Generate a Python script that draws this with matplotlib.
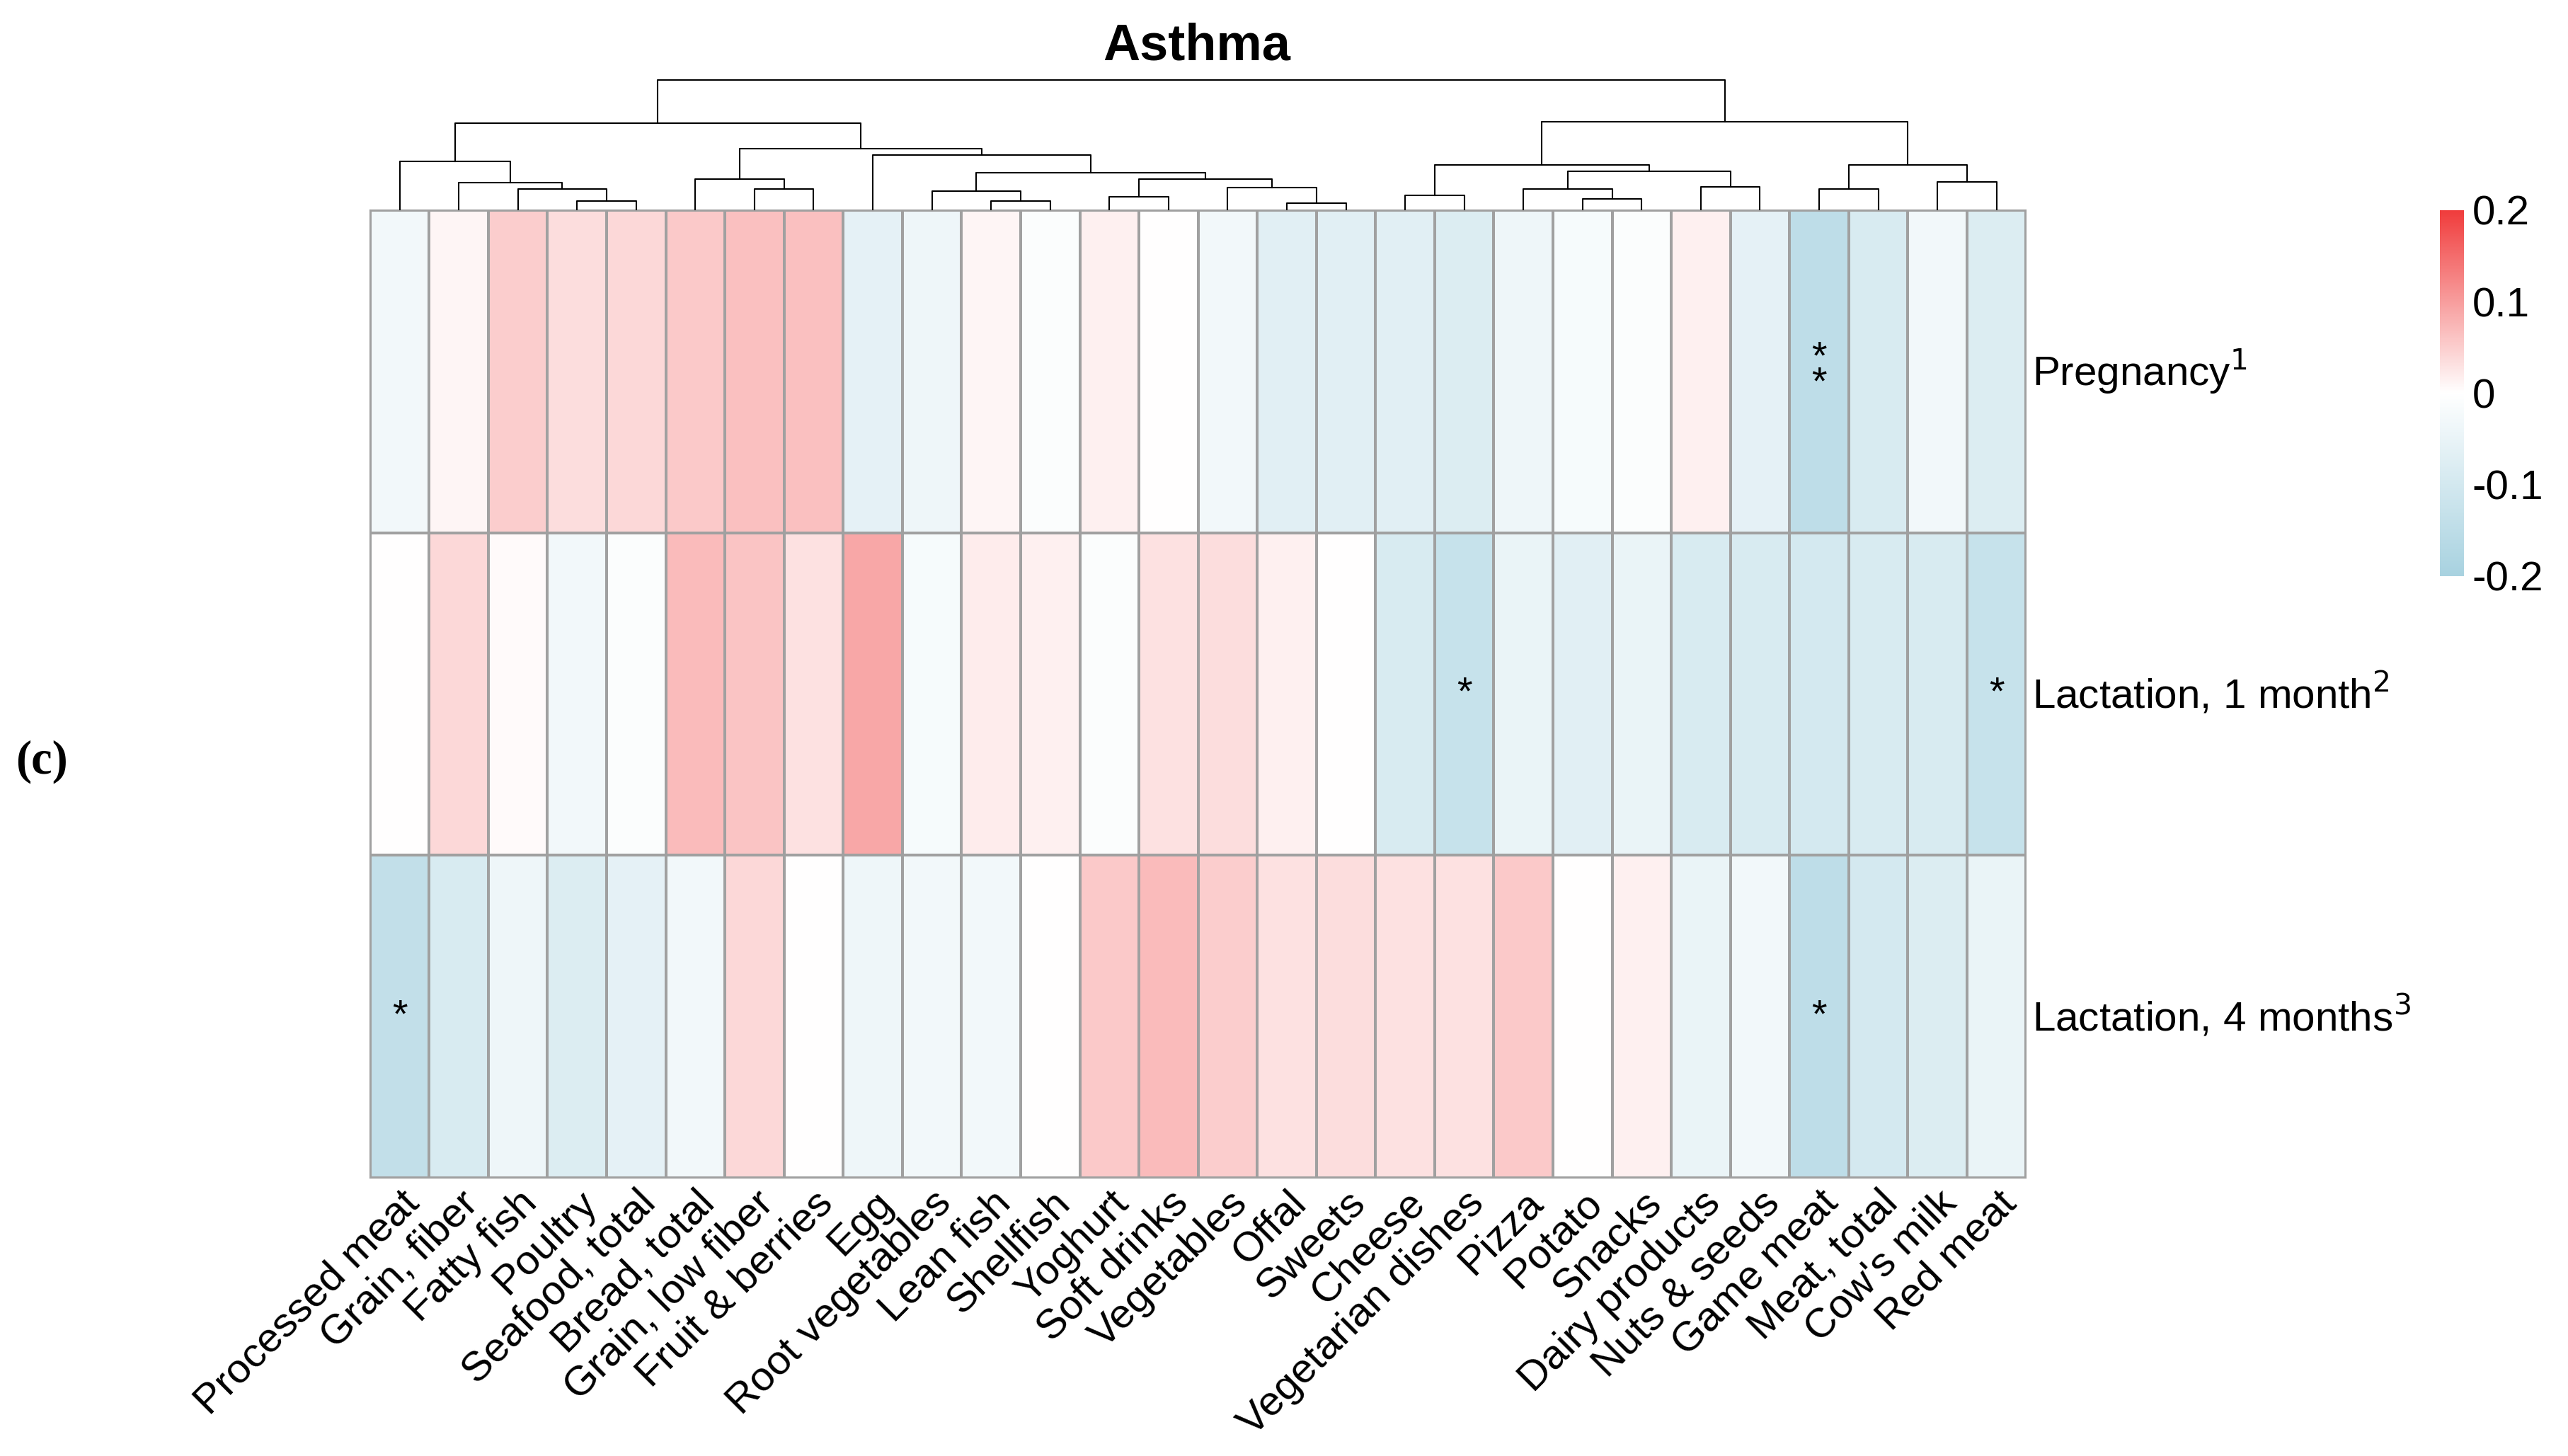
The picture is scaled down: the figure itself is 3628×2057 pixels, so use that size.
import numpy as np
import matplotlib
matplotlib.use('Agg')
import matplotlib.pyplot as plt
from matplotlib.colors import LinearSegmentedColormap, Normalize

plt.rcParams['font.family'] = ['Liberation Sans', 'DejaVu Sans']

foods = ['Processed meat', 'Grain, fiber', 'Fatty fish', 'Poultry', 'Seafood, total',
         'Bread, total', 'Grain, low fiber', 'Fruit & berries', 'Egg', 'Root vegetables',
         'Lean fish', 'Shellfish', 'Yoghurt', 'Soft drinks', 'Vegetables', 'Offal',
         'Sweets', 'Cheese', 'Vegetarian dishes', 'Pizza', 'Potato', 'Snacks',
         'Dairy products', 'Nuts & seeds', 'Game meat', 'Meat, total', "Cow's milk", 'Red meat']
rows = ['Pregnancy$^1$', 'Lactation, 1 month$^2$', 'Lactation, 4 months$^3$']

pregnancy = [-0.03, 0.01, 0.05, 0.035, 0.04, 0.055, 0.065, 0.065, -0.06, -0.04, 0.01, -0.01, 0.015, 0.0,
             -0.03, -0.07, -0.07, -0.07, -0.08, -0.04, -0.02, -0.01, 0.015, -0.06, -0.15, -0.09, -0.03, -0.08]
lact_1m = [0.0, 0.04, 0.005, -0.03, -0.01, 0.07, 0.06, 0.03, 0.09, -0.02, 0.02, 0.015, -0.01, 0.03,
           0.035, 0.015, 0.0, -0.09, -0.13, -0.05, -0.07, -0.05, -0.09, -0.09, -0.10, -0.09, -0.09, -0.13]
lact_4m = [-0.14, -0.09, -0.04, -0.08, -0.06, -0.03, 0.04, 0.0, -0.04, -0.03, -0.03, 0.0, 0.055, 0.07,
           0.05, 0.03, 0.035, 0.03, 0.03, 0.055, 0.0, 0.015, -0.05, -0.03, -0.15, -0.10, -0.08, -0.05]
stars = {(0, 24): '*\n*', (1, 18): '*', (1, 27): '*', (2, 0): '*', (2, 24): '*'}

# dendrogram merges: (left node, right node, height); leaves are ints, clusters are 'cN'
merges = [
    (3, 4, 38), (2, 'c0', 87), (1, 'c1', 112), (0, 'c2', 202),
    (6, 7, 87), (5, 'c4', 128),
    (10, 11, 38), (9, 'c6', 78), (12, 13, 55), (15, 16, 30), (14, 'c9', 92), ('c8', 'c10', 128),
    ('c7', 'c11', 153), (8, 'c12', 228), ('c5', 'c13', 252), ('c3', 'c14', 357),
    (17, 18, 62), (20, 21, 46), (19, 'c17', 88), (22, 23, 95), ('c18', 'c19', 160), ('c16', 'c20', 185),
    (24, 25, 88), (26, 27, 115), ('c22', 'c23', 185), ('c21', 'c24', 365), ('c15', 'c25', 535),
]

data = np.array([pregnancy, lact_1m, lact_4m])
cmap = LinearSegmentedColormap.from_list('bwr2', ['#a8d2e0', '#ffffff', '#f03c3c'])
norm = Normalize(-0.2, 0.2)

fig = plt.figure(figsize=(36.28, 20.57), dpi=100)
ax = fig.add_axes([0.1441, 0.191, 0.6449, 0.6647])
ax.pcolormesh(data, cmap=cmap, norm=norm, edgecolors='#a0a0a0', linewidth=1.5)
ax.set_xlim(0, len(foods))
ax.set_ylim(len(rows), 0)
for s in ax.spines.values():
    s.set_color('#a0a0a0')
    s.set_linewidth(1.5)
ax.set_xticks(np.arange(len(foods)) + 0.5)
ax.set_xticklabels(foods, rotation=45, ha='right', rotation_mode='anchor', fontsize=42)
ax.tick_params(length=0, pad=6)
ax.set_yticks([])
for i, r in enumerate(rows):
    ax.text(len(foods) + 0.1, i + 0.5, r, fontsize=42, va='center', ha='left')
for (i, j), s in stars.items():
    ax.text(j + 0.5, i + 0.5, s, fontsize=40, ha='center', va='center', linespacing=0.6)

# dendrogram
dax = fig.add_axes([0.1441, 0.8557, 0.6449, 0.09], sharex=ax)
pos, hgt = {}, {}
for k in range(len(foods)):
    pos[k], hgt[k] = k + 0.5, 0
for n, (a, b, h) in enumerate(merges):
    xa, xb = pos[a], pos[b]
    dax.plot([xa, xa, xb, xb], [hgt[a], h, h, hgt[b]], color='black', lw=1.5)
    pos['c%d' % n], hgt['c%d' % n] = (xa + xb) / 2, h
dax.set_ylim(0, 540)
dax.axis('off')

fig.text(0.466, 0.968, 'Asthma', fontsize=52, fontweight='bold', ha='center', va='center')
fig.text(0.006, 0.477, '(c)', fontsize=48, fontweight='bold', family='Liberation Serif', va='center')

cax = fig.add_axes([0.950, 0.6045, 0.0096, 0.2512])
cb = fig.colorbar(plt.cm.ScalarMappable(norm=norm, cmap=cmap), cax=cax, ticks=[-0.2, -0.1, 0, 0.1, 0.2])
cb.ax.set_yticklabels(['-0.2', '-0.1', '0', '0.1', '0.2'])
cb.ax.tick_params(length=0, labelsize=42, pad=8)
cb.outline.set_visible(False)

fig.savefig('out.png', dpi=100)
